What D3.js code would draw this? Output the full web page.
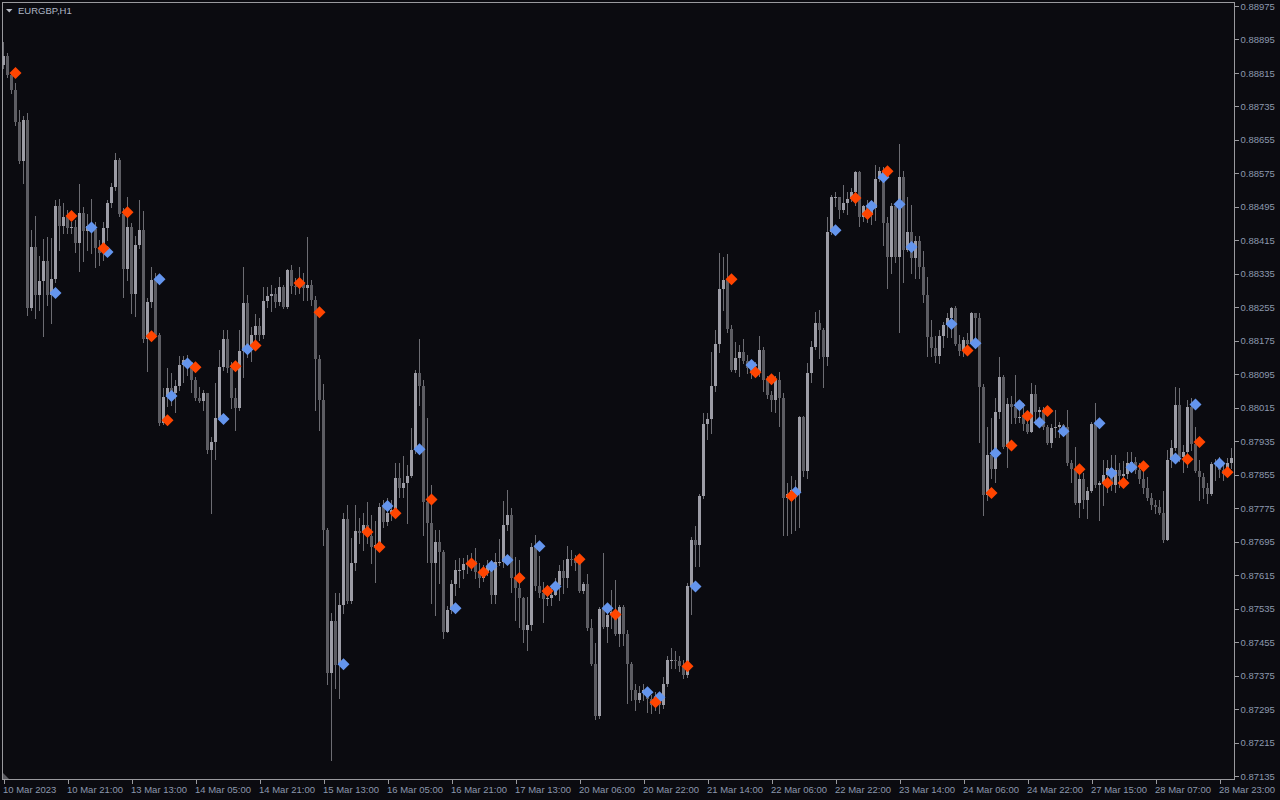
<!DOCTYPE html>
<html><head><meta charset="utf-8">
<script src="https://cdn.jsdelivr.net/npm/d3@7"></script>
<style>html,body{margin:0;padding:0;background:#0b0b10;overflow:hidden}</style>
</head><body>
<svg id="c" width="1280" height="800"></svg>
<script>
const symbolTitle = "EURGBP,H1";
const firstOpen = 0.88834;
const closes = [0.88855,0.88810,0.88774,0.88697,0.88604,0.88702,0.88253,0.88399,0.88284,0.88317,
0.88365,0.88284,0.88322,0.88497,0.88449,0.88470,0.88444,0.88446,0.88408,0.88480,
0.88437,0.88449,0.88442,0.88396,0.88384,0.88444,0.88504,0.88542,0.88607,0.88478,
0.88346,0.88446,0.88286,0.88403,0.88439,0.88179,0.88267,0.88320,0.88188,0.87978,
0.88040,0.88062,0.88050,0.88066,0.88117,0.88129,0.88124,0.88081,0.88038,0.88031,
0.88050,0.87913,0.87933,0.87990,0.88112,0.88179,0.88109,0.88038,0.88014,0.88150,
0.88265,0.88164,0.88188,0.88210,0.88188,0.88270,0.88282,0.88286,0.88267,0.88303,
0.88255,0.88344,0.88305,0.88303,0.88315,0.88301,0.88308,0.88272,0.88131,0.88033,
0.87722,0.87381,0.87505,0.87400,0.87543,0.87749,0.87553,0.87643,0.87720,0.87715,
0.87734,0.87708,0.87682,0.87686,0.87777,0.87741,0.87763,0.87770,0.87847,0.87823,
0.87835,0.87851,0.87913,0.88097,0.88066,0.87789,0.87739,0.87643,0.87694,0.87670,
0.87479,0.87531,0.87593,0.87627,0.87627,0.87641,0.87639,0.87648,0.87622,0.87608,
0.87622,0.87636,0.87567,0.87646,0.87646,0.87734,0.87758,0.87608,0.87584,0.87560,
0.87483,0.87495,0.87682,0.87588,0.87572,0.87557,0.87560,0.87567,0.87591,0.87624,
0.87608,0.87653,0.87651,0.87643,0.87577,0.87593,0.87488,0.87402,0.87278,0.87533,
0.87490,0.87519,0.87526,0.87474,0.87538,0.87474,0.87402,0.87340,0.87316,0.87333,
0.87340,0.87318,0.87304,0.87316,0.87304,0.87354,0.87412,0.87412,0.87409,0.87397,
0.87376,0.87588,0.87698,0.87686,0.87804,0.87976,0.87988,0.88066,0.88167,0.88298,
0.88320,0.88203,0.88105,0.88133,0.88148,0.88126,0.88109,0.88097,0.88100,0.88152,
0.88081,0.88045,0.88033,0.88081,0.88038,0.87799,0.87808,0.87818,0.87813,0.87992,
0.87863,0.88097,0.88160,0.88217,0.88200,0.88136,0.88435,0.88518,0.88518,0.88487,
0.88504,0.88513,0.88530,0.88578,0.88470,0.88497,0.88475,0.88492,0.88561,0.88580,
0.88456,0.88375,0.88497,0.88375,0.88566,0.88391,0.88435,0.88372,0.88413,0.88351,
0.88284,0.88184,0.88157,0.88138,0.88186,0.88212,0.88229,0.88253,0.88167,0.88150,
0.88176,0.88167,0.88241,0.88229,0.88064,0.87806,0.87902,0.87868,0.88004,0.88088,
0.87921,0.88023,0.88016,0.87990,0.87992,0.87976,0.87957,0.88047,0.88004,0.88009,
0.87968,0.87930,0.87966,0.87968,0.87973,0.87968,0.87882,0.87868,0.87787,0.87844,
0.87794,0.87815,0.87976,0.87830,0.87835,0.87854,0.87870,0.87830,0.87866,0.87851,
0.87856,0.87882,0.87885,0.87866,0.87844,0.87823,0.87799,0.87782,0.87777,0.87763,
0.87698,0.87890,0.87918,0.88021,0.87897,0.87909,0.88016,0.87928,0.87863,0.87849,
0.87823,0.87808,0.87880,0.87882,0.87866,0.87856,0.87882,0.87894];
const highs = [0.88889,0.88862,0.88817,0.88791,0.88726,0.88712,0.88719,0.88439,0.88473,0.88377,
0.88418,0.88423,0.88420,0.88511,0.88513,0.88504,0.88487,0.88458,0.88463,0.88549,
0.88494,0.88478,0.88513,0.88458,0.88415,0.88458,0.88511,0.88552,0.88623,0.88611,
0.88492,0.88518,0.88456,0.88425,0.88511,0.88485,0.88277,0.88351,0.88336,0.88193,
0.88062,0.88109,0.88097,0.88081,0.88138,0.88138,0.88141,0.88117,0.88088,0.88064,
0.88057,0.88050,0.87945,0.88074,0.88152,0.88200,0.88200,0.88124,0.88062,0.88200,
0.88351,0.88284,0.88207,0.88238,0.88229,0.88303,0.88303,0.88308,0.88301,0.88327,
0.88308,0.88346,0.88356,0.88325,0.88351,0.88336,0.88423,0.88320,0.88282,0.88141,
0.88071,0.87727,0.87524,0.87572,0.87572,0.87763,0.87782,0.87703,0.87782,0.87751,
0.87763,0.87789,0.87758,0.87744,0.87787,0.87794,0.87799,0.87794,0.87882,0.87882,
0.87899,0.87878,0.87966,0.88105,0.88179,0.88081,0.87990,0.87830,0.87722,0.87722,
0.87674,0.87541,0.87603,0.87651,0.87655,0.87655,0.87663,0.87667,0.87679,0.87643,
0.87639,0.87651,0.87651,0.87667,0.87701,0.87792,0.87818,0.87775,0.87658,0.87651,
0.87562,0.87562,0.87691,0.87710,0.87660,0.87598,0.87591,0.87591,0.87608,0.87639,
0.87651,0.87684,0.87674,0.87663,0.87653,0.87598,0.87617,0.87510,0.87452,0.87538,
0.87667,0.87548,0.87579,0.87603,0.87543,0.87543,0.87483,0.87407,0.87354,0.87349,
0.87354,0.87340,0.87328,0.87335,0.87326,0.87371,0.87421,0.87440,0.87433,0.87421,
0.87412,0.87596,0.87706,0.87732,0.87808,0.88002,0.88002,0.88148,0.88200,0.88384,
0.88375,0.88382,0.88212,0.88172,0.88164,0.88179,0.88141,0.88129,0.88124,0.88186,
0.88160,0.88090,0.88054,0.88090,0.88100,0.88050,0.87835,0.87851,0.87842,0.87995,
0.87995,0.88121,0.88174,0.88243,0.88248,0.88205,0.88470,0.88523,0.88530,0.88518,
0.88547,0.88530,0.88540,0.88580,0.88580,0.88499,0.88511,0.88504,0.88595,0.88590,
0.88590,0.88470,0.88504,0.88499,0.88645,0.88580,0.88518,0.88499,0.88425,0.88425,
0.88389,0.88327,0.88224,0.88186,0.88200,0.88219,0.88241,0.88255,0.88258,0.88188,
0.88184,0.88193,0.88243,0.88241,0.88241,0.88071,0.87968,0.87990,0.88038,0.88136,
0.88093,0.88038,0.88043,0.88093,0.88021,0.88026,0.88002,0.88074,0.88069,0.88016,
0.88016,0.87973,0.87976,0.88009,0.87980,0.87976,0.88009,0.87890,0.87921,0.87866,
0.87858,0.87825,0.87980,0.88026,0.87839,0.87890,0.87890,0.87902,0.87902,0.87882,
0.87887,0.87909,0.87909,0.87897,0.87882,0.87866,0.87849,0.87811,0.87794,0.87794,
0.87815,0.87913,0.87937,0.88064,0.88062,0.87925,0.88033,0.88038,0.87968,0.87890,
0.87858,0.87835,0.87885,0.87892,0.87897,0.87882,0.87894,0.87918];
const lows = [0.88826,0.88805,0.88767,0.88690,0.88599,0.88552,0.88236,0.88248,0.88229,0.88248,
0.88186,0.88260,0.88217,0.88315,0.88391,0.88432,0.88432,0.88432,0.88387,0.88341,
0.88365,0.88391,0.88384,0.88351,0.88356,0.88368,0.88415,0.88494,0.88535,0.88473,
0.88279,0.88320,0.88241,0.88234,0.88396,0.88172,0.88102,0.88255,0.88184,0.87973,
0.87976,0.88019,0.88021,0.88004,0.88057,0.88076,0.88093,0.88052,0.88033,0.88028,
0.88009,0.87906,0.87763,0.87892,0.87985,0.88105,0.88100,0.88014,0.87961,0.88009,
0.88088,0.88136,0.88126,0.88176,0.88176,0.88181,0.88255,0.88246,0.88255,0.88260,
0.88253,0.88253,0.88289,0.88286,0.88289,0.88272,0.88272,0.88260,0.88009,0.87961,
0.87686,0.87354,0.87173,0.87345,0.87321,0.87524,0.87548,0.87548,0.87627,0.87691,
0.87674,0.87691,0.87643,0.87598,0.87674,0.87729,0.87734,0.87746,0.87765,0.87801,
0.87801,0.87739,0.87849,0.87906,0.88021,0.87710,0.87646,0.87548,0.87519,0.87596,
0.87464,0.87479,0.87524,0.87567,0.87586,0.87608,0.87620,0.87627,0.87608,0.87586,
0.87600,0.87615,0.87548,0.87548,0.87639,0.87634,0.87722,0.87574,0.87507,0.87490,
0.87455,0.87435,0.87483,0.87579,0.87562,0.87502,0.87543,0.87543,0.87579,0.87555,
0.87572,0.87586,0.87639,0.87627,0.87574,0.87572,0.87483,0.87400,0.87271,0.87273,
0.87488,0.87455,0.87488,0.87471,0.87445,0.87447,0.87309,0.87316,0.87292,0.87311,
0.87316,0.87287,0.87285,0.87292,0.87285,0.87297,0.87349,0.87392,0.87392,0.87385,
0.87369,0.87371,0.87521,0.87636,0.87636,0.87799,0.87940,0.87954,0.88054,0.88148,
0.88248,0.88195,0.88102,0.88100,0.88090,0.88121,0.88097,0.88086,0.88090,0.88090,
0.88054,0.88038,0.88007,0.88004,0.87971,0.87710,0.87710,0.87715,0.87722,0.87729,
0.87851,0.87847,0.88076,0.88155,0.88133,0.88064,0.88117,0.88430,0.88497,0.88468,
0.88482,0.88478,0.88509,0.88499,0.88449,0.88461,0.88458,0.88454,0.88463,0.88556,
0.88403,0.88301,0.88336,0.88363,0.88195,0.88315,0.88389,0.88336,0.88325,0.88325,
0.88267,0.88138,0.88138,0.88124,0.88121,0.88160,0.88184,0.88184,0.88164,0.88141,
0.88138,0.88141,0.88169,0.88169,0.87933,0.87758,0.87794,0.87847,0.87837,0.87990,
0.87918,0.87873,0.87978,0.87978,0.87980,0.87961,0.87954,0.87973,0.87976,0.87968,
0.87964,0.87928,0.87921,0.87945,0.87945,0.87949,0.87878,0.87837,0.87784,0.87753,
0.87775,0.87751,0.87813,0.87825,0.87746,0.87782,0.87813,0.87818,0.87813,0.87825,
0.87835,0.87847,0.87866,0.87858,0.87835,0.87811,0.87794,0.87772,0.87763,0.87760,
0.87694,0.87698,0.87873,0.87913,0.87887,0.87861,0.87873,0.87913,0.87861,0.87794,
0.87799,0.87787,0.87806,0.87842,0.87849,0.87842,0.87858,0.87870];

// diamond markers: [bar index, price]
const blueMarks = [[13,0.88289],[22,0.88446],[26,0.88387],[39,0.88322],[42,0.88043],[46,0.88121],[55,0.87988],[61,0.88155],
[85,0.87402],[96,0.87780],[104,0.87916],[113,0.87536],[122,0.87636],[126,0.87651],[134,0.87684],[138,0.87588],[151,0.87536],
[161,0.87335],[164,0.87323],[173,0.87588],[187,0.88117],[198,0.87813],[208,0.88439],[217,0.88497],[220,0.88566],[224,0.88501],
[227,0.88399],[237,0.88215],[243,0.88169],[248,0.87906],[254,0.88021],[259,0.87980],[265,0.87959],[274,0.87978],[277,0.87859],
[282,0.87873],[293,0.87894],[298,0.88023],[304,0.87882]];
const orangeMarks = [[3,0.88815],[17,0.88473],[25,0.88396],[31,0.88482],[37,0.88186],[41,0.87985],[48,0.88112],[58,0.88114],
[63,0.88164],[74,0.88313],[79,0.88243],[91,0.87718],[94,0.87682],[98,0.87763],[107,0.87796],[117,0.87643],[120,0.87622],
[129,0.87608],[136,0.87577],[144,0.87653],[153,0.87521],[163,0.87311],[171,0.87397],[182,0.88322],[188,0.88100],[192,0.88083],
[197,0.87804],[213,0.88516],[216,0.88478],[221,0.88580],[241,0.88152],[247,0.87811],[252,0.87925],[256,0.87995],[261,0.88007],
[269,0.87868],[276,0.87835],[280,0.87835],[285,0.87875],[296,0.87892],[299,0.87933],[306,0.87861]];

const timeTickBars = [0,16,32,48,64,80,96,112,128,144,160,176,192,208,224,240,256,272,288,304];
const timeLabels = ["10 Mar 2023","10 Mar 21:00","13 Mar 13:00","14 Mar 05:00","14 Mar 21:00","15 Mar 13:00",
"16 Mar 05:00","16 Mar 21:00","17 Mar 13:00","20 Mar 06:00","20 Mar 22:00","21 Mar 14:00","22 Mar 06:00",
"22 Mar 22:00","23 Mar 14:00","24 Mar 06:00","24 Mar 22:00","27 Mar 15:00","28 Mar 07:00","28 Mar 23:00"];
const priceTicks = [0.87135,0.87215,0.87295,0.87375,0.87455,0.87535,0.87615,0.87695,0.87775,0.87855,0.87935,0.88015,
0.88095,0.88175,0.88255,0.88335,0.88415,0.88495,0.88575,0.88655,0.88735,0.88815,0.88895,0.88975];

const BG = "#0b0b10", FRAME = "#9a9a9e", TXT = "#8c98ae";
const BULL = "#9d9da6", BEAR = "#5d5d63", WICK = "#6c6c72";
const BLUE = "#6495ed", ORANGE = "#ff4500";
const FONT = "'Liberation Sans', Arial, sans-serif";

const svg = d3.select("#c");
svg.append("rect").attr("width",1280).attr("height",800).attr("fill",BG);

const plot = {l:2, t:2, r:1234, b:779};
const n = closes.length;
const x = d3.scaleLinear().domain([0, n-1]).range([3, 3 + 4*(n-1)]);
const y = d3.scaleLinear().domain([0.87135, 0.88975]).range([776, 6]);

const bars = closes.map((c,i) => {
  const o = i === 0 ? firstOpen : closes[i-1];
  return {i, o, c, h: Math.max(highs[i], o, c), l: Math.min(lows[i], o, c)};
});

svg.append("clipPath").attr("id","clip").append("rect")
  .attr("x",plot.l+1).attr("y",plot.t+1).attr("width",plot.r-plot.l-1).attr("height",plot.b-plot.t-1);

const g = svg.append("g").attr("clip-path","url(#clip)");
const cx = d => Math.round(x(d.i));

g.selectAll("line.wick").data(bars).join("line").attr("class","wick")
  .attr("x1",d=>cx(d)+0.5).attr("x2",d=>cx(d)+0.5)
  .attr("y1",d=>Math.round(y(d.h))).attr("y2",d=>Math.round(y(d.l))+1)
  .attr("stroke",WICK).attr("stroke-width",1).attr("shape-rendering","crispEdges");

g.selectAll("rect.body").data(bars).join("rect").attr("class","body")
  .attr("x",d=>cx(d)-1).attr("width",3)
  .attr("y",d=>Math.round(Math.min(y(d.o),y(d.c))))
  .attr("height",d=>Math.max(1, Math.round(Math.abs(y(d.o)-y(d.c)))))
  .attr("fill",d=>d.c>=d.o?BULL:BEAR).attr("shape-rendering","crispEdges");

const diamond = "M0,-6L6,0L0,6L-6,0Z";
g.selectAll("path.blue").data(blueMarks).join("path").attr("class","blue")
  .attr("d",diamond).attr("fill",BLUE)
  .attr("transform",d=>`translate(${Math.round(x(d[0]))+0.5},${y(d[1])})`);
g.selectAll("path.orange").data(orangeMarks).join("path").attr("class","orange")
  .attr("d",diamond).attr("fill",ORANGE)
  .attr("transform",d=>`translate(${Math.round(x(d[0]))+0.5},${y(d[1])})`);

// frame
svg.append("rect").attr("x",plot.l+0.5).attr("y",plot.t+0.5)
  .attr("width",plot.r-plot.l).attr("height",plot.b-plot.t)
  .attr("fill","none").attr("stroke",FRAME).attr("shape-rendering","crispEdges");

// price axis
const yAxis = d3.axisRight(y).tickValues(priceTicks).tickSize(4).tickPadding(2)
  .tickFormat(d=>d.toFixed(5));
const ya = svg.append("g").attr("transform",`translate(${plot.r+0.5},0)`).call(yAxis);
ya.select(".domain").remove();
ya.selectAll("line").attr("stroke",FRAME).attr("shape-rendering","crispEdges");
ya.selectAll("text").attr("fill",TXT).style("font-family",FONT).style("font-size","9.5px");

// time axis
const xAxis = d3.axisBottom(x).tickValues(timeTickBars).tickSize(4).tickPadding(3)
  .tickFormat((d,i)=>timeLabels[i]);
const xa = svg.append("g").attr("transform",`translate(0.5,${plot.b+0.5})`).call(xAxis);
xa.select(".domain").remove();
xa.selectAll("line").attr("stroke",FRAME).attr("shape-rendering","crispEdges");
xa.selectAll("text").attr("fill",TXT).attr("text-anchor","start").attr("x",-1)
  .style("font-family",FONT).style("font-size","9.5px");

// bottom-left marker
svg.append("path").attr("d",`M${plot.l+1},${plot.b-6}L${plot.l+1},${plot.b}L${plot.l+7},${plot.b}Z`).attr("fill","#5a5a60");

// title
svg.append("path").attr("d","M6,9L12.5,9L9.25,12.5Z").attr("fill","#b8bcc6");
svg.append("text").attr("x",18).attr("y",14).text(symbolTitle)
  .attr("fill","#aeb6c6").style("font-family",FONT).style("font-size","9.5px");
</script>
</body></html>
